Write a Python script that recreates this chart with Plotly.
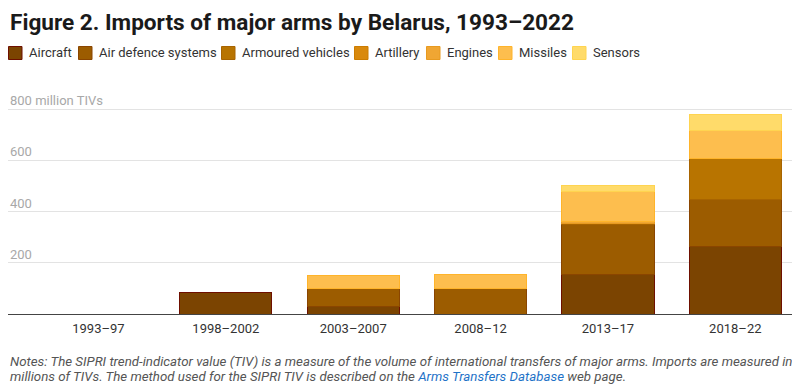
import plotly.graph_objects as go

periods = ["1993–97", "1998–2002", "2003–2007", "2008–12", "2013–17", "2018–22"]
series_names = ["Aircraft", "Air defence systems", "Armoured vehicles", "Artillery",
                "Engines", "Missiles", "Sensors"]
aircraft = [0, 83, 30, 0, 155, 262]
air_defence = [0, 0, 69, 100, 194, 186]
armoured = [0, 0, 0, 0, 4, 160]
artillery = [0, 0, 0, 0, 0, 0]
engines = [0, 0, 0, 0, 8, 0]
missiles = [0, 0, 50, 55, 116, 108]
sensors = [0, 0, 0, 0, 27, 65]
series_values = [aircraft, air_defence, armoured, artillery, engines, missiles, sensors]

fill_colors = ["#7b4401", "#9c5c00", "#b87400", "#d9890c", "#f0a633", "#fdbe4e", "#ffdb6a"]
line_colors = ["#6e0f00", "#8a4500", "#a86400", "#cc7c00", "#e89a20", "#ffb42a", "#ffd450"]

tick_values = [200, 400, 600, 800]
tick_labels = ["200", "400", "600", "800 million TIVs"]

title_text = "Figure 2. Imports of major arms by Belarus, 1993–2022"
notes_lines = [
    "<i>Notes: The SIPRI trend-indicator value (TIV) is a measure of the volume of international "
    "transfers of major arms. Imports are measured in</i>",
    "<i>millions of TIVs. The method used for the SIPRI TIV is described on the "
    "<span style='color:#1f73c8'>Arms Transfers Database</span> web page.</i>",
]

FONT = "Roboto"
OFF = 8  # page body margin offset
W, H = 800 - OFF, 384 - OFF
L, R, T, B = 0, 1, 99 - OFF, 70
PW, PH = W - L - R, H - T - B


def px(x):
    # x given in reference-page pixels
    return (x - OFF - L) / PW


def py(y):
    # y given in reference-page pixels
    return (H - B - (y - OFF)) / PH


fig = go.Figure()
for name, vals, fc, lc in zip(series_names, series_values, fill_colors, line_colors):
    fig.add_trace(go.Bar(
        x=periods, y=[v if v else None for v in vals], name=name,
        marker=dict(color=fc, line=dict(color=lc, width=1)),
        showlegend=False, hovertemplate="%{x}: %{y}<extra>" + name + "</extra>",
    ))

annotations = []
shapes = []

# title
annotations.append(dict(text="<b>" + title_text + "</b>", x=px(8), y=py(22.3), xref="paper", yref="paper",
                        xanchor="left", yanchor="middle", showarrow=False,
                        font=dict(family=FONT, size=22.6, color="#1a1a1a")))

# legend
legend_x = [8, 78, 221, 354, 426, 498, 572]
for name, fc, lc, lx in zip(series_names, fill_colors, line_colors, legend_x):
    shapes.append(dict(type="rect", xref="paper", yref="paper",
                       x0=px(lx + 0.5), x1=px(lx + 14), y0=py(59.5), y1=py(46.5),
                       fillcolor=fc, line=dict(color=lc, width=1)))
    annotations.append(dict(text=name, x=px(lx + 19), y=py(53), xref="paper", yref="paper",
                            xanchor="left", yanchor="middle", showarrow=False,
                            font=dict(family=FONT, size=13, color="#333333")))

# y tick labels above gridlines
for v, t in zip(tick_values, tick_labels):
    annotations.append(dict(text=t, x=0, y=v, xref="paper", yref="y", xanchor="left", yanchor="bottom",
                            yshift=-1, showarrow=False, font=dict(family=FONT, size=13, color="#a8a8a8")))

# notes
for line, ly in zip(notes_lines, [361, 376.5]):
    annotations.append(dict(text=line, x=px(8), y=py(ly), xref="paper", yref="paper",
                            xanchor="left", yanchor="middle", align="left", showarrow=False,
                            font=dict(family=FONT, size=13.3, color="#555555")))

fig.update_layout(
    width=W, height=H,
    margin=dict(l=L, r=R, t=T, b=B),
    barmode="stack", bargap=0.275,
    plot_bgcolor="white", paper_bgcolor="white",
    font=dict(family=FONT, size=13, color="#333333"),
    xaxis=dict(type="category", range=[-0.71, 5.5], showgrid=False, showline=True,
               linecolor="#444444", linewidth=1, ticks="outside", ticklen=2, tickcolor="rgba(0,0,0,0)",
               tickfont=dict(size=13, color="#333333"), fixedrange=True),
    yaxis=dict(range=[0, 840], tickvals=tick_values, showticklabels=False, showgrid=True,
               gridcolor="#e3e3e3", gridwidth=1, zeroline=False, fixedrange=True),
    annotations=annotations, shapes=shapes,
    showlegend=False,
)

fig.write_html("out.html")
